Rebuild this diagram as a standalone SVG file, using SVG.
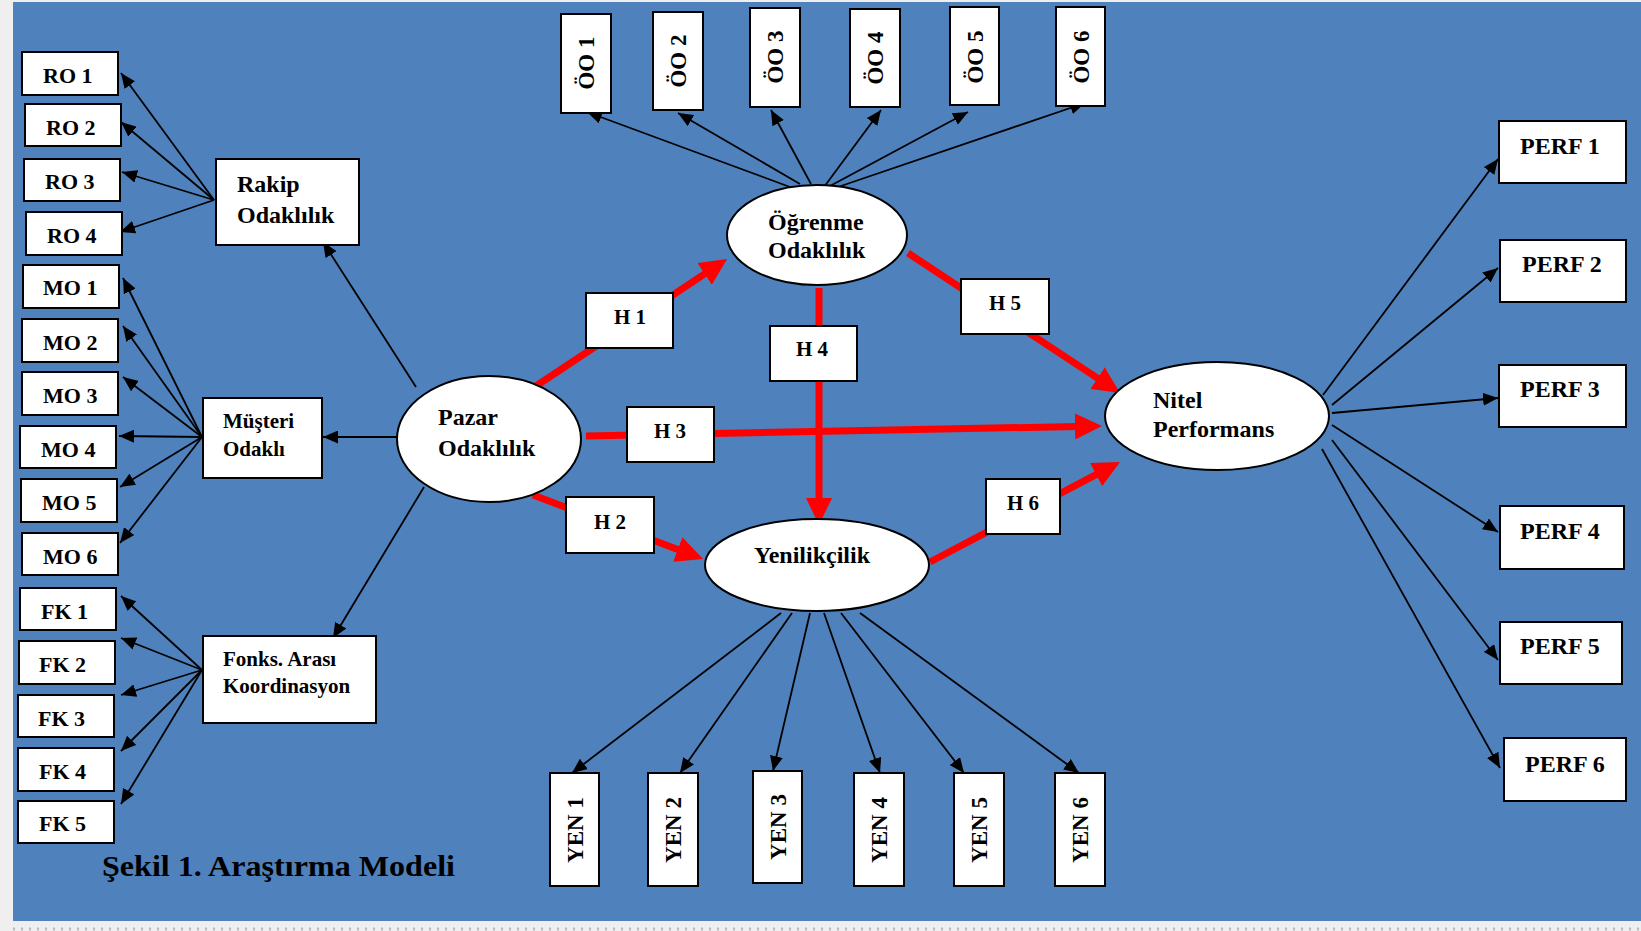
<svg xmlns="http://www.w3.org/2000/svg" width="1641" height="931" viewBox="0 0 1641 931">
<style>
text{font-family:"Liberation Serif","Times New Roman",serif;font-weight:bold;fill:#000}
.box{fill:#fff;stroke:#000;stroke-width:2}
.ell{fill:#fff;stroke:#000;stroke-width:2}
.s22{font-size:22px}
.s21{font-size:21px}
.s24{font-size:24px}
.s23{font-size:23px}
.mid{text-anchor:middle}
.blk{stroke:#000;stroke-width:1.8;fill:none;marker-end:url(#ah)}
.red{stroke:#ff0000;stroke-width:7;fill:none;marker-end:url(#rh)}
</style>
<defs>
<marker id="ah" markerUnits="userSpaceOnUse" markerWidth="15" markerHeight="13" refX="15" refY="6.5" orient="auto">
<path d="M0,0 L15,6.5 L0,13 z" fill="#000"/>
</marker>
<marker id="rh" markerUnits="userSpaceOnUse" markerWidth="27" markerHeight="26" refX="15" refY="13" orient="auto">
<path d="M0,0 L27,13 L0,26 z" fill="#ff0000"/>
</marker>
</defs>
<rect x="0" y="0" width="1641" height="931" fill="#efefef"/>
<rect x="13" y="2" width="1628" height="919" fill="#4f81bd"/>
<line x1="13" y1="929" x2="1641" y2="929" stroke="#b8bcc4" stroke-width="3" stroke-dasharray="2,6"/>

<g id="connectors">
<line class="blk" x1="214" y1="200" x2="121" y2="73"/>
<line class="blk" x1="214" y1="200" x2="121" y2="122"/>
<line class="blk" x1="214" y1="200" x2="122" y2="172"/>
<line class="blk" x1="214" y1="200" x2="120" y2="232"/>
<line class="blk" x1="202" y1="437" x2="123" y2="278"/>
<line class="blk" x1="202" y1="437" x2="123" y2="326"/>
<line class="blk" x1="202" y1="437" x2="123" y2="377"/>
<line class="blk" x1="202" y1="437" x2="119" y2="436"/>
<line class="blk" x1="202" y1="437" x2="120" y2="487"/>
<line class="blk" x1="202" y1="437" x2="120" y2="543"/>
<line class="blk" x1="202" y1="670" x2="121" y2="596"/>
<line class="blk" x1="202" y1="670" x2="121" y2="638"/>
<line class="blk" x1="202" y1="670" x2="121" y2="695"/>
<line class="blk" x1="202" y1="670" x2="121" y2="751"/>
<line class="blk" x1="202" y1="670" x2="121" y2="804"/>
<line class="blk" x1="416" y1="387" x2="323" y2="242"/>
<line class="blk" x1="397" y1="437" x2="323" y2="437"/>
<line class="blk" x1="424" y1="487" x2="333" y2="638"/>
<line class="blk" x1="790" y1="187" x2="587" y2="112"/>
<line class="blk" x1="800" y1="184" x2="678" y2="113"/>
<line class="blk" x1="811" y1="184" x2="771" y2="110"/>
<line class="blk" x1="824" y1="187" x2="881" y2="110"/>
<line class="blk" x1="830" y1="186" x2="968" y2="112"/>
<line class="blk" x1="838" y1="187" x2="1085" y2="103"/>
<line class="blk" x1="781" y1="613" x2="572" y2="773"/>
<line class="blk" x1="792" y1="613" x2="680" y2="773"/>
<line class="blk" x1="810" y1="613" x2="773" y2="771"/>
<line class="blk" x1="824" y1="613" x2="880" y2="773"/>
<line class="blk" x1="841" y1="613" x2="964" y2="773"/>
<line class="blk" x1="860" y1="613" x2="1079" y2="773"/>
<line class="blk" x1="1323" y1="395" x2="1498" y2="159"/>
<line class="blk" x1="1332" y1="405" x2="1498" y2="268"/>
<line class="blk" x1="1332" y1="413" x2="1498" y2="398"/>
<line class="blk" x1="1332" y1="425" x2="1498" y2="532"/>
<line class="blk" x1="1332" y1="440" x2="1498" y2="660"/>
<line class="blk" x1="1322" y1="449" x2="1500" y2="768"/>
<line class="red" x1="533" y1="388" x2="717.1" y2="265.7"/>
<line class="red" x1="533" y1="495" x2="691.8" y2="554.8"/>
<line class="red" x1="586" y1="436" x2="1090" y2="426.2"/>
<line class="red" x1="819" y1="288" x2="819" y2="513"/>
<line class="red" x1="908" y1="253" x2="1110" y2="386.4"/>
<line class="red" x1="930" y1="562" x2="1109.4" y2="467.6"/>
</g>

<g id="RO1"><rect class="box" x="22" y="52" width="96" height="43"/><text class="s22" x="43" y="83">RO 1</text></g>
<g id="RO2"><rect class="box" x="25" y="104" width="96" height="42"/><text class="s22" x="46" y="135">RO 2</text></g>
<g id="RO3"><rect class="box" x="24" y="159" width="96" height="42"/><text class="s22" x="45" y="189">RO 3</text></g>
<g id="RO4"><rect class="box" x="26" y="212" width="96" height="43"/><text class="s22" x="47" y="243">RO 4</text></g>
<g id="MO1"><rect class="box" x="23" y="265" width="96" height="43"/><text class="s22" x="43" y="295">MO 1</text></g>
<g id="MO2"><rect class="box" x="22" y="319" width="96" height="43"/><text class="s22" x="43" y="350">MO 2</text></g>
<g id="MO3"><rect class="box" x="22" y="372" width="96" height="43"/><text class="s22" x="43" y="403">MO 3</text></g>
<g id="MO4"><rect class="box" x="20" y="426" width="96" height="42"/><text class="s22" x="41" y="457">MO 4</text></g>
<g id="MO5"><rect class="box" x="21" y="479" width="96" height="43"/><text class="s22" x="42" y="510">MO 5</text></g>
<g id="MO6"><rect class="box" x="22" y="533" width="96" height="42"/><text class="s22" x="43" y="564">MO 6</text></g>
<g id="FK1"><rect class="box" x="20" y="588" width="96" height="42"/><text class="s22" x="41" y="619">FK 1</text></g>
<g id="FK2"><rect class="box" x="19" y="641" width="96" height="43"/><text class="s22" x="39" y="672">FK 2</text></g>
<g id="FK3"><rect class="box" x="18" y="695" width="96" height="42"/><text class="s22" x="38" y="726">FK 3</text></g>
<g id="FK4"><rect class="box" x="18" y="748" width="96" height="43"/><text class="s22" x="39" y="779">FK 4</text></g>
<g id="FK5"><rect class="box" x="18" y="801" width="96" height="42"/><text class="s22" x="39" y="831">FK 5</text></g>

<g id="Rakip"><rect class="box" x="216" y="159" width="143" height="86"/><text class="s24" x="237" y="192">Rakip</text><text class="s24" x="237" y="223">Odaklılık</text></g>
<g id="Musteri"><rect class="box" x="203" y="398" width="119" height="80"/><text class="s21" x="223" y="428">Müşteri</text><text class="s21" x="223" y="456">Odaklı</text></g>
<g id="Fonks"><rect class="box" x="203" y="636" width="173" height="87"/><text class="s21" x="223" y="666">Fonks. Arası</text><text class="s21" x="223" y="693">Koordinasyon</text></g>

<g id="OO1"><rect class="box" x="561" y="14" width="50" height="99"/><text class="s23 mid" transform="translate(594,63) rotate(-90)">ÖO 1</text></g>
<g id="OO2"><rect class="box" x="653" y="12" width="50" height="98"/><text class="s23 mid" transform="translate(686,61) rotate(-90)">ÖO 2</text></g>
<g id="OO3"><rect class="box" x="750" y="8" width="50" height="99"/><text class="s23 mid" transform="translate(783,57) rotate(-90)">ÖO 3</text></g>
<g id="OO4"><rect class="box" x="850" y="9" width="50" height="98"/><text class="s23 mid" transform="translate(883,58) rotate(-90)">ÖO 4</text></g>
<g id="OO5"><rect class="box" x="950" y="7" width="49" height="98"/><text class="s23 mid" transform="translate(983,57) rotate(-90)">ÖO 5</text></g>
<g id="OO6"><rect class="box" x="1056" y="7" width="49" height="99"/><text class="s23 mid" transform="translate(1089,57) rotate(-90)">ÖO 6</text></g>

<g id="Ogrenme"><ellipse class="ell" cx="817" cy="235" rx="90" ry="50"/><text class="s24" x="768" y="230">Öğrenme</text><text class="s24" x="768" y="258">Odaklılık</text></g>
<g id="Pazar"><ellipse class="ell" cx="489" cy="439" rx="92" ry="63"/><text class="s24" x="438" y="425">Pazar</text><text class="s24" x="438" y="456">Odaklılık</text></g>
<g id="Yenilikcilik"><ellipse class="ell" cx="817" cy="565" rx="112" ry="46"/><text class="s24 mid" x="812" y="563">Yenilikçilik</text></g>
<g id="Nitel"><ellipse class="ell" cx="1217" cy="416" rx="112" ry="54"/><text class="s24" x="1153" y="408">Nitel</text><text class="s24" x="1153" y="437">Performans</text></g>

<g id="H1"><rect class="box" x="586" y="293" width="87" height="55"/><text class="s21 mid" x="630" y="324">H 1</text></g>
<g id="H2"><rect class="box" x="566" y="497" width="88" height="56"/><text class="s21 mid" x="610" y="529">H 2</text></g>
<g id="H3"><rect class="box" x="627" y="407" width="87" height="55"/><text class="s21 mid" x="670" y="438">H 3</text></g>
<g id="H4"><rect class="box" x="770" y="326" width="87" height="55"/><text class="s21 mid" x="812" y="356">H 4</text></g>
<g id="H5"><rect class="box" x="961" y="279" width="88" height="55"/><text class="s21 mid" x="1005" y="310">H 5</text></g>
<g id="H6"><rect class="box" x="986" y="479" width="74" height="55"/><text class="s21 mid" x="1023" y="510">H 6</text></g>

<g id="YEN1"><rect class="box" x="550" y="773" width="49" height="113"/><text class="s23 mid" transform="translate(583,830) rotate(-90)">YEN 1</text></g>
<g id="YEN2"><rect class="box" x="648" y="773" width="50" height="113"/><text class="s23 mid" transform="translate(681,830) rotate(-90)">YEN 2</text></g>
<g id="YEN3"><rect class="box" x="753" y="771" width="49" height="112"/><text class="s23 mid" transform="translate(786,827) rotate(-90)">YEN 3</text></g>
<g id="YEN4"><rect class="box" x="854" y="773" width="50" height="113"/><text class="s23 mid" transform="translate(887,830) rotate(-90)">YEN 4</text></g>
<g id="YEN5"><rect class="box" x="954" y="773" width="50" height="113"/><text class="s23 mid" transform="translate(987,830) rotate(-90)">YEN 5</text></g>
<g id="YEN6"><rect class="box" x="1055" y="773" width="50" height="113"/><text class="s23 mid" transform="translate(1088,830) rotate(-90)">YEN 6</text></g>

<g id="PERF1"><rect class="box" x="1499" y="121" width="127" height="62"/><text class="s24" x="1520" y="154">PERF 1</text></g>
<g id="PERF2"><rect class="box" x="1500" y="240" width="126" height="62"/><text class="s24" x="1522" y="272">PERF 2</text></g>
<g id="PERF3"><rect class="box" x="1499" y="365" width="127" height="62"/><text class="s24" x="1520" y="397">PERF 3</text></g>
<g id="PERF4"><rect class="box" x="1500" y="506" width="124" height="63"/><text class="s24" x="1520" y="539">PERF 4</text></g>
<g id="PERF5"><rect class="box" x="1500" y="622" width="122" height="62"/><text class="s24" x="1520" y="654">PERF 5</text></g>
<g id="PERF6"><rect class="box" x="1504" y="738" width="122" height="63"/><text class="s24" x="1525" y="772">PERF 6</text></g>

<text x="102" y="876" style="font-size:29px" textLength="353" lengthAdjust="spacingAndGlyphs">Şekil 1. Araştırma Modeli</text>
</svg>
